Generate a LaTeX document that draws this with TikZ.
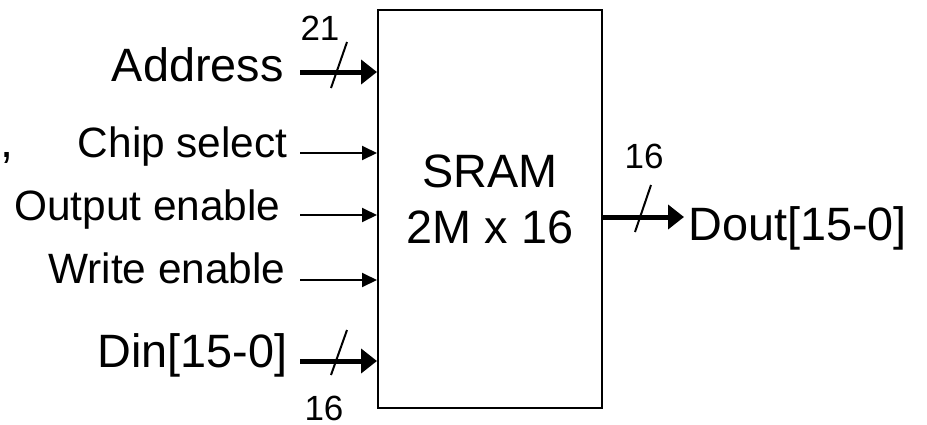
\documentclass[tikz,border=0pt]{standalone}
\usepackage{fontspec}
\setmainfont{Liberation Sans}
\usetikzlibrary{arrows.meta,positioning}

\begin{document}
\begin{tikzpicture}[
    x=0.5pt, y=-0.5pt,
    big/.style={font=\fontsize{23.4}{28}\selectfont, inner sep=0pt},
    sig/.style={font=\fontsize{21.2}{25}\selectfont, inner sep=0pt, anchor=base east},
    buswidth/.style={font=\fontsize{17.5}{21}\selectfont, inner sep=0pt, anchor=base},
    wire/.style={-{Triangle[length=7.5pt,width=7pt]}, line width=1pt},
    bus/.style={-{Triangle[length=8pt,width=12pt]}, line width=2.5pt},
    slash/.style={line width=1pt}
]
    \useasboundingbox (0,0) rectangle (927,424);

    \node[draw, line width=1pt, minimum width=112pt, minimum height=199pt, inner sep=0pt] (sram) at (490,209) {};
    \node[big, anchor=base] (name) at (490,187) {SRAM};
    \node[big, anchor=base] (size) at (490,243) {2M x 16};

    % inputs
    \coordinate (addr-in) at (300,72);
    \coordinate (cs-in) at (300,153);
    \coordinate (oe-in) at (300,215);
    \coordinate (we-in) at (300,280);
    \coordinate (din-in) at (300,361);
    \coordinate (dout-out) at (684,217);

    \node[big, anchor=base east] (addr) at (284,81) {Address};
    \node[sig] (cs) at (288,157) {Chip select};
    \node[sig] (oe) at (281,220) {Output enable};
    \node[sig] (we) at (286,283) {Write enable};
    \node[big, anchor=base east] (din) at (288,367) {Din[15-0]};
    \node[big, anchor=base west] (comma) at (0,157) {,};
    \node[big, anchor=base west] (dout) at (688,240) {Dout[15-0]};

    \draw[bus] (addr-in) -- (addr-in -| sram.west);
    \draw[wire] (cs-in) -- (cs-in -| sram.west);
    \draw[wire] (oe-in) -- (oe-in -| sram.west);
    \draw[wire] (we-in) -- (we-in -| sram.west);
    \draw[bus] (din-in) -- (din-in -| sram.west);
    \draw[bus] (dout-out -| sram.east) -- (dout-out);

    % bus widths
    \draw[slash] (331,88) -- (347,42);
    \draw[slash] (331,375) -- (347,330);
    \draw[slash] (635,232) -- (651,185);
    \node[buswidth] (addr-w) at (320,40) {21};
    \node[buswidth] (din-w) at (324,420) {16};
    \node[buswidth] (dout-w) at (644,168) {16};
\end{tikzpicture}
\end{document}
